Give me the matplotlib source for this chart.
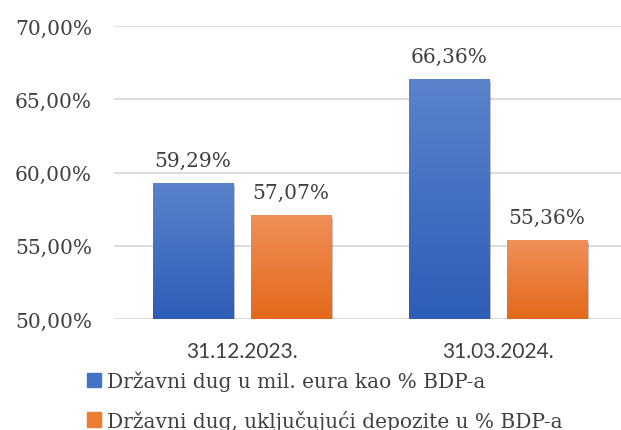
import numpy as np
import matplotlib.pyplot as plt
import matplotlib.patheffects as pe
from matplotlib.colors import LinearSegmentedColormap

categories = ['31.12.2023.', '31.03.2024.']
dug = [59.29, 66.36]
dug_depoziti = [57.07, 55.36]
series_names = ['Državni dug u mil. eura kao % BDP-a',
                'Državni dug, uključujući depozite u % BDP-a']
yticks = [50, 55, 60, 65, 70]

serif = ['DejaVu Serif']
sans = ['Lato', 'DejaVu Sans']
txt = '#404040'

fig = plt.figure(figsize=(6.21, 4.31), dpi=100)
ax = fig.add_axes([0.1836, 0.2575, 0.8245, 0.6798])

blue_cm = LinearSegmentedColormap.from_list('b', ['#2E5DB8', '#5B83CC'])
orange_cm = LinearSegmentedColormap.from_list('o', ['#E3691A', '#F08F58'])

x = np.arange(len(categories))
w = 0.3125
off = 0.191
grad = np.linspace(0, 1, 256).reshape(-1, 1)

for vals, dx, cm, base in [(dug, -off, blue_cm, '#4472C4'), (dug_depoziti, off, orange_cm, '#ED7D31')]:
    bars = ax.bar(x + dx, [v - 50 for v in vals], w, bottom=50, color=base, zorder=2,
                  path_effects=[pe.SimplePatchShadow(offset=(1.5, -1.5), shadow_rgbFace='black', alpha=0.25),
                                pe.Normal()])
    for b, v in zip(bars, vals):
        x0 = b.get_x()
        im = ax.imshow(grad, cmap=cm, origin='lower', aspect='auto', zorder=3,
                       extent=[x0, x0 + w, 50, v])
        im.set_clip_path(b)
        ax.text(x0 + w / 2, v + 0.9, f'{v:.2f}%'.replace('.', ','), ha='center', va='bottom',
                fontsize=14.5, color=txt, family=serif)

ax.set_xlim(-0.5, 1.5)
ax.set_ylim(50, 70)
ax.set_yticks(yticks)
ax.set_yticklabels([f'{t:.2f}%'.replace('.', ',') for t in yticks], family=serif, fontsize=14.5, color=txt)
ax.set_xticks(x)
ax.set_xticklabels(categories, family=sans, fontsize=15, color=txt)
ax.tick_params(length=0)
ax.tick_params(axis='x', pad=16)
ax.tick_params(axis='y', pad=16)
ax.grid(axis='y', color='#D9D9D9', lw=1.3, zorder=0)
ax.set_axisbelow(True)
for s in ax.spines.values():
    s.set_visible(False)

handles = [plt.Rectangle((0, 0), 1, 1, color='#4472C4'), plt.Rectangle((0, 0), 1, 1, color='#ED7D31')]
fig.legend(handles, series_names, loc='upper left', bbox_to_anchor=(0.14, 0.137), frameon=False,
           prop={'family': serif, 'size': 14.5}, labelcolor=txt, handlelength=0.7, handleheight=0.7,
           handletextpad=0.3, labelspacing=0.9, borderaxespad=0, borderpad=0)

plt.savefig('out.png', dpi=100)
